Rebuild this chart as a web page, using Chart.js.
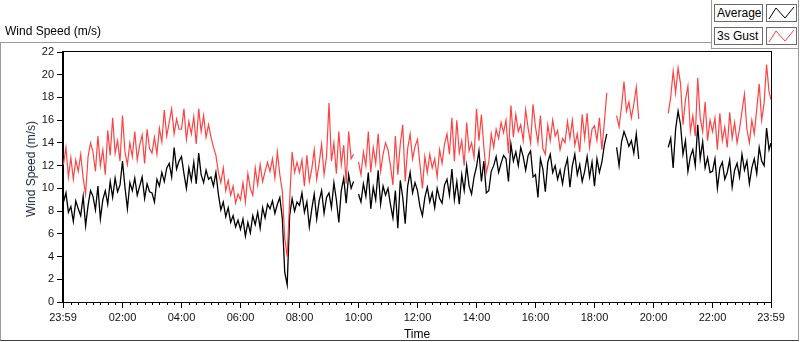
<!DOCTYPE html>
<html>
<head>
<meta charset="utf-8">
<script src="https://cdn.jsdelivr.net/npm/chart.js@4.4.1/dist/chart.umd.min.js"></script>
<style>
  html, body { margin: 0; padding: 0; background: #fff; }
  #wrap { position: relative; width: 800px; height: 342px; overflow: hidden; font-family: "Liberation Sans", Arial, sans-serif; }
  #frame { position: absolute; left: 0; top: 42px; width: 797px; height: 297px; border: 1px solid #9a9a9a; border-bottom-color: #404040; }
  #chart { position: absolute; left: 0; top: 0; }
  #title { position: absolute; left: 5px; top: 24px; font-size: 12px; color: #000; }
  #ytitle { position: absolute; left: 31px; top: 169px; transform: translate(-50%, -50%) rotate(-90deg); font-size: 12px; white-space: nowrap; color: #1a2440; }
  #legend { position: absolute; left: 711px; top: 0; width: 86px; height: 48px; background: #fff; border-left: 1px solid #9a9a9a; border-right: 1px solid #9a9a9a; border-bottom: 1px solid #9a9a9a; }
  .lbl { position: absolute; left: 2px; width: 45px; height: 16px; padding-left: 2px; border: 1px solid #6a6a6a; font-size: 12px; line-height: 16px; color: #000; }
  .ico { position: absolute; left: 54px; width: 29px; height: 16px; border: 1px solid #6a6a6a; }
  .ico svg { display: block; }
</style>
</head>
<body>
<div id="wrap">
  <div id="frame"></div>
  <canvas id="chart" width="800" height="342"></canvas>
  <div id="title">Wind Speed (m/s)</div>
  <div id="ytitle">Wind Speed (m/s)</div>
  <div id="legend">
    <div class="lbl" style="top:4px">Average</div>
    <div class="ico" style="top:4px"><svg width="29" height="16"><polyline points="2,14 9,3 18,13 27,2" fill="none" stroke="#000" stroke-width="1"/></svg></div>
    <div class="lbl" style="top:27px">3s Gust</div>
    <div class="ico" style="top:27px"><svg width="29" height="16"><polyline points="2,14 9,3 18,13 27,2" fill="none" stroke="#ff4242" stroke-width="1"/></svg></div>
  </div>
</div>
<script>
// 5-minute samples from 00:00 to 23:55, plus the final 23:59 reading
const stepMinutes = 5;
const lastMinute = 1439;

// Average wind speed (m/s), one row per hour
const avgSeries = [
  8.8, 9.6, 7.9, 8.4, 7.1, 8.9, 8.2, 7.6, 9.3, 6.7, 8.5, 9.8,
  9.3, 8.1, 10.2, 7.3, 9.0, 9.8, 8.6, 10.6, 9.2, 10.9, 9.7, 10.3,
  12.4, 10.1, 8.2, 10.5, 9.8, 10.9, 9.4, 10.2, 11.0, 9.1, 10.4, 9.7,
  9.6, 8.8, 10.8, 10.2, 11.4, 10.6, 11.8, 12.2, 11.0, 13.6, 11.7, 12.4,
  12.8, 11.3, 10.0, 11.8, 10.7, 12.3, 10.4, 13.1, 11.2, 10.5, 11.6, 10.8,
  11.0, 10.2, 11.4, 9.5, 8.1, 8.8, 7.5, 8.3, 7.0, 7.6, 6.6, 7.2,
  6.4, 7.3, 5.8, 7.0, 6.1, 7.6, 6.8, 7.9, 6.5, 8.3, 7.4, 8.6,
  8.2, 8.9, 7.8, 8.6, 9.2, 7.4, 2.6, 1.5, 7.6, 9.1, 8.0, 8.8,
  8.5, 9.6, 7.9, 8.8, 6.6, 8.2, 9.5, 7.3, 8.9, 9.8, 7.8, 9.2,
  9.6, 8.3, 10.5, 9.0, 7.0, 9.8, 10.9, 8.7, 11.2, 10.0, 10.6, null,
  9.5, 8.8, 10.4, 9.3, 11.4, 8.2, 10.1, 9.0, 11.6, 8.6, 10.2, 9.4,
  10.0, 8.6, 7.4, 9.8, 6.5, 10.7, 9.2, 6.9, 10.2, 11.4, 9.6, 10.5,
  9.8, 8.4, 7.6, 9.2, 10.1, 8.8, 9.6, 8.3, 10.0, 9.1, 8.7, 10.3,
  10.8, 9.4, 11.7, 9.0, 10.6, 8.6, 11.2, 9.8, 12.0, 10.2, 9.5, 11.0,
  11.9, 13.3, 10.6, 12.4, 9.6, 9.8, 11.5, 12.0, 12.8, 11.4, 12.2, 12.9,
  12.6, 10.6, 13.9, 12.4, 13.2, 12.0, 13.6, 12.8, 11.6, 12.9, 13.3, 11.0,
  11.2, 9.2, 12.6, 11.7, 9.7, 12.3, 13.0, 11.4, 12.0, 10.8, 11.6, 10.4,
  11.8, 12.6, 10.1, 12.0, 13.0, 11.2, 12.1, 10.6, 11.5, 12.8, 11.0, 12.3,
  10.2, 12.6, 11.4, 12.3, 13.8, 14.8, null, null, null, 13.6, 12.0, 14.1,
  15.0, 14.4, 13.7, 14.2, 13.1, 14.8, 12.6, null, null, null, null, null,
  null, null, null, null, null, null, 13.6, 14.4, 11.8, 15.2, 16.8, 15.6,
  13.0, 14.2, 11.5, 12.8, 13.4, 12.0, 15.6, 12.6, 14.1, 11.8, 12.7, 11.4,
  11.5, 12.6, 10.0, 11.8, 12.3, 10.8, 11.4, 12.5, 10.1, 11.6, 12.2, 11.0,
  13.0, 11.6, 12.4, 10.4, 11.8, 12.6, 11.3, 13.6, 12.4, 12.0, 15.3, 13.4,
  14.0
];

// 3 second gust (m/s)
const gustSeries = [
  12.1, 13.6, 11.0, 12.7, 10.8, 12.5, 11.5, 13.0, 10.9, 9.5, 12.8, 14.0,
  13.2, 11.5, 14.6, 12.0, 13.4, 11.2, 15.1, 12.9, 16.2, 13.1, 14.2, 12.4,
  16.4, 13.2, 12.1, 14.0, 12.8, 15.0, 12.5, 13.8, 14.7, 12.2, 15.2, 13.5,
  13.1, 14.5, 13.0, 15.3, 14.1, 16.9, 14.6, 15.8, 17.0, 14.8, 16.1, 15.2,
  15.2, 17.0, 14.3, 15.9, 14.8, 16.3, 13.9, 17.0, 15.0, 16.4, 14.5, 15.6,
  14.5, 13.6, 12.9, 11.4, 10.5, 11.8, 9.8, 10.7, 9.4, 10.2, 8.7, 9.5,
  9.0, 10.5, 8.8, 11.3, 10.0, 9.4, 11.8, 10.3, 12.1, 10.6, 11.5, 12.3,
  11.5, 12.6, 10.9, 13.2, 11.2, 9.8, 5.6, 4.0, 9.0, 13.2, 11.4, 12.3,
  11.4, 12.5, 10.2, 12.9, 10.6, 11.7, 13.4, 10.8, 12.2, 13.9, 11.2, 12.8,
  17.5, 12.4, 14.0, 11.3, 15.0, 12.1, 13.8, 10.4, 15.0, 12.6, 13.0, null,
  12.3, 11.2, 13.2, 12.0, 15.0, 11.4, 13.6, 12.2, 14.8, 11.5, 13.0, 14.0,
  13.4, 12.0, 10.3, 14.6, 11.2, 13.9, 15.6, 10.6, 13.5, 14.8, 12.6, 13.7,
  14.3, 12.1, 10.0, 12.8, 11.4, 13.0, 11.8, 12.6, 11.0, 13.4, 12.2, 13.9,
  14.8, 13.0, 16.2, 12.4, 16.0, 13.1, 14.2, 12.0, 15.8, 13.3, 14.0, 12.7,
  17.0, 14.2, 16.5, 13.6, 11.4, 12.3, 14.8, 13.6, 15.2, 14.4, 15.8, 14.9,
  16.0, 13.1, 17.3, 14.5, 16.5, 15.0, 15.6, 14.2, 16.9, 15.3, 14.0, 17.4,
  15.4, 14.0, 16.4, 13.5, 13.0, 15.6, 14.2, 16.0, 14.6, 15.1, 13.4, 14.4,
  14.0, 15.9, 14.4, 16.0, 13.8, 14.8, 13.2, 16.5, 14.4, 16.6, 13.6, 15.2,
  15.5, 14.2, 16.2, 13.4, 15.8, 18.4, null, null, null, 16.4, 15.4, 17.2,
  19.4, 16.8, 17.6, 16.2, 17.4, 18.9, 16.1, null, null, null, null, null,
  null, null, null, null, null, null, 16.6, 18.0, 20.3, 18.4, 20.6, 19.2,
  15.6, 17.8, 19.0, 15.0, 16.4, 14.6, 19.7, 16.2, 15.0, 17.6, 14.2, 16.0,
  15.0, 16.2, 13.4, 16.6, 14.2, 15.4, 13.6, 16.7, 14.4, 15.8, 14.0, 15.2,
  16.8, 18.3, 15.2, 14.0, 16.0, 14.8, 17.0, 19.2, 16.0, 17.5, 20.9, 18.5,
  17.8
];

// x axis labels (minutes from midnight)
const xLabelMinutes = [-1, 120, 240, 360, 480, 600, 720, 840, 960, 1080, 1200, 1320, 1439];
const xTickLabels = ['23:59', '02:00', '04:00', '06:00', '08:00', '10:00', '12:00', '14:00', '16:00', '18:00', '20:00', '22:00', '23:59'];

const fontFamily = '"Liberation Sans", Arial, sans-serif';

function toPoints(values) {
  return values.map((v, i) => ({
    x: i < values.length - 1 ? i * stepMinutes : lastMinute,
    y: v
  }));
}

// minor ticks every 15 min and the box around the plot area
const plotFrame = {
  id: 'plotFrame',
  afterDraw(chart) {
    const { ctx, chartArea, scales } = chart;
    const x = scales.x;
    ctx.save();
    ctx.strokeStyle = '#000';
    ctx.lineWidth = 1;
    ctx.beginPath();
    for (let m = 15; m < lastMinute; m += 15) {
      if (m % 120 === 0) continue;
      const px = Math.round(x.getPixelForValue(m)) + 0.5;
      ctx.moveTo(px, chartArea.bottom);
      ctx.lineTo(px, chartArea.bottom + 3);
    }
    ctx.stroke();
    ctx.strokeRect(Math.round(chartArea.left) - 0.5, Math.round(chartArea.top) - 0.5,
      Math.round(chartArea.right - chartArea.left) + 1, Math.round(chartArea.bottom - chartArea.top) + 1);
    ctx.restore();
  }
};

function initChart() {
  const ctx = document.getElementById('chart').getContext('2d');
  new Chart(ctx, {
    type: 'line',
    data: {
      datasets: [
        {
          label: '3s Gust',
          data: toPoints(gustSeries),
          borderColor: '#ff4242',
          borderWidth: 1.2,
          pointRadius: 0,
          tension: 0,
          spanGaps: false
        },
        {
          label: 'Average',
          data: toPoints(avgSeries),
          borderColor: '#000000',
          borderWidth: 1.3,
          pointRadius: 0,
          tension: 0,
          spanGaps: false
        }
      ]
    },
    options: {
      responsive: false,
      animation: false,
      devicePixelRatio: 1,
      layout: { padding: { left: 0, top: 52, right: 29, bottom: 0 } },
      plugins: {
        legend: { display: false },
        tooltip: { enabled: false }
      },
      scales: {
        x: {
          type: 'linear',
          min: -1,
          max: lastMinute,
          afterBuildTicks: (scale) => {
            scale.ticks = xLabelMinutes.map(v => ({ value: v }));
          },
          afterFit: (scale) => { scale.height = 40; },
          ticks: {
            autoSkip: false,
            maxRotation: 0,
            padding: 3,
            color: '#111',
            font: { family: fontFamily, size: 11 },
            callback: (value, index) => xTickLabels[index]
          },
          grid: { drawOnChartArea: false, drawTicks: true, tickLength: 6, tickColor: '#000' },
          border: { display: true, color: '#000' },
          title: { display: true, text: 'Time', color: '#000', padding: 0, font: { family: fontFamily, size: 12 } }
        },
        y: {
          min: 0,
          max: 22,
          afterFit: (scale) => { scale.width = 63; },
          ticks: {
            stepSize: 2,
            padding: 3,
            color: '#111',
            font: { family: fontFamily, size: 11 }
          },
          grid: { drawOnChartArea: false, drawTicks: true, tickLength: 6, tickColor: '#000' },
          border: { display: true, color: '#000' }
        }
      }
    },
    plugins: [plotFrame]
  });
}

document.addEventListener('DOMContentLoaded', initChart);
</script>
</body>
</html>
